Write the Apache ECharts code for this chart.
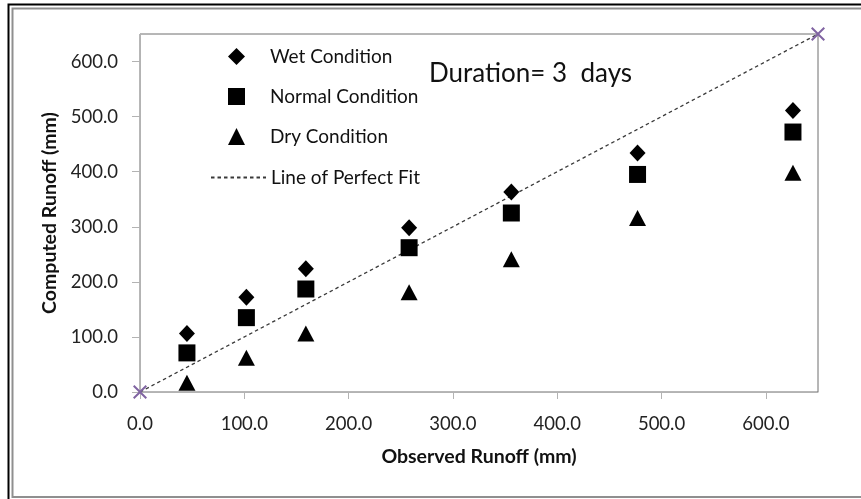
<!DOCTYPE html>
<html>
<head>
<meta charset="utf-8">
<script src="https://cdn.jsdelivr.net/npm/echarts@6/dist/echarts.min.js"></script>
<style>
html,body{margin:0;padding:0;background:#fff;}
#chart{width:861px;height:499px;}
</style>
</head>
<body>
<div id="chart"></div>
<script>
// Observed runoff (mm) for each event
const observed = [45, 102, 159, 258, 356, 477, 626];
// Computed runoff (mm) per antecedent condition
const wetValues = [106, 172, 224, 298, 363, 434, 511];
const normalValues = [71, 135, 187, 262, 325, 395, 472];
const dryValues = [17, 62, 106, 181, 241, 316, 398];
// Line of perfect fit endpoints
const fitLine = [[0, 0], [650, 650]];
// Tick values
const tickValues = [0, 100, 200, 300, 400, 500, 600];
const seriesNames = ['Wet Condition', 'Normal Condition', 'Dry Condition', 'Line of Perfect Fit'];
const titleText = 'Duration= 3  days';
const xAxisName = 'Observed Runoff (mm)';
const yAxisName = 'Computed Runoff (mm)';

const FONT = 'Lato';
const pairs = vals => observed.map((x, i) => [x, vals[i]]);
const crossPath = 'path://M0,1 L1,0 L5,4 L9,0 L10,1 L6,5 L10,9 L9,10 L5,6 L1,10 L0,9 L4,5 Z';

const chart = echarts.init(document.getElementById('chart'), null, {renderer: 'canvas'});
const nameStyle = {color: '#111', fontFamily: FONT, fontWeight: 'bold', fontSize: 19.5};
const axisCommon = {
  type: 'value', min: 0, max: 650, interval: 100,
  axisLine: {show: true, lineStyle: {color: '#b3b3b3', width: 1}},
  axisTick: {show: true, length: 7, customValues: tickValues, lineStyle: {color: '#b3b3b3'}},
  splitLine: {show: false},
  axisLabel: {customValues: tickValues, color: '#222', fontFamily: FONT, fontSize: 18.5,
    formatter: v => v.toFixed(1)},
  nameTextStyle: nameStyle
};
const legendText = {fontFamily: FONT, fontSize: 19, color: '#111'};
chart.setOption({
  animation: false,
  backgroundColor: '#fff',
  grid: {left: 140, right: 43, top: 34, bottom: 107, show: true, borderColor: '#6e6e6e', borderWidth: 1},
  title: {text: titleText, left: 424, top: 56,
    textStyle: {fontFamily: FONT, fontWeight: 'normal', fontSize: 26, color: '#111'}},
  legend: [
    {
      orient: 'vertical', left: 223, top: 42,
      itemWidth: 17, itemHeight: 17, itemGap: 21,
      itemStyle: {opacity: 1},
      textStyle: Object.assign({}, legendText, {padding: [0, 0, 0, 20]}),
      data: seriesNames.slice(0, 3)
    },
    {
      orient: 'vertical', left: 205, top: 163,
      itemWidth: 55, itemHeight: 14,
      itemStyle: {opacity: 0},
      textStyle: Object.assign({}, legendText, {padding: [0, 0, 0, 0]}),
      data: seriesNames.slice(3)
    }
  ],
  xAxis: Object.assign({}, axisCommon, {
    name: xAxisName, nameLocation: 'middle', nameGap: 55,
    axisLabel: Object.assign({}, axisCommon.axisLabel, {margin: 23})
  }),
  yAxis: Object.assign({}, axisCommon, {
    name: yAxisName, nameLocation: 'middle', nameGap: 67,
    axisTick: Object.assign({}, axisCommon.axisTick, {length: 8}),
    axisLabel: Object.assign({}, axisCommon.axisLabel, {margin: 22})
  }),
  series: [
    {name: seriesNames[0], type: 'scatter', symbol: 'diamond', symbolSize: [16, 17],
      itemStyle: {color: '#000', opacity: 1}, data: pairs(wetValues), z: 5},
    {name: seriesNames[1], type: 'scatter', symbol: 'rect', symbolSize: 17,
      itemStyle: {color: '#000', opacity: 1}, data: pairs(normalValues), z: 5},
    {name: seriesNames[2], type: 'scatter', symbol: 'triangle', symbolSize: [17, 16],
      itemStyle: {color: '#000', opacity: 1}, data: pairs(dryValues), z: 5},
    {name: seriesNames[3], type: 'line', symbol: 'none', data: fitLine,
      itemStyle: {color: '#3a3a3a'},
      lineStyle: {color: '#3a3a3a', width: 1.3, type: [3.5, 3]}, z: 3},
    {name: 'fitEnds', type: 'scatter', symbol: crossPath, symbolSize: 14,
      itemStyle: {color: '#8064a2', opacity: 1}, data: fitLine, z: 6}
  ],
  graphic: [
    {type: 'rect', shape: {x: 8.5, y: 4.5, width: 870, height: 520}, style: {fill: 'none', stroke: '#000', lineWidth: 2}, silent: true},
    {type: 'rect', shape: {x: 12.5, y: 8.5, width: 870, height: 488.5}, style: {fill: 'none', stroke: '#8f8f8f', lineWidth: 2}, silent: true}
  ]
});
</script>
</body>
</html>
